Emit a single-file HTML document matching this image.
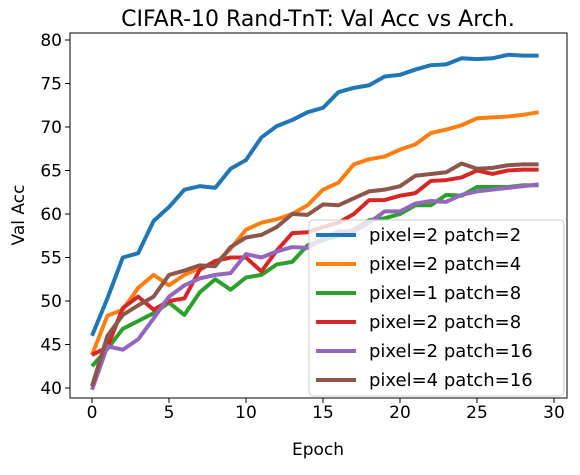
<!DOCTYPE html>
<html><head><meta charset="utf-8"><style>
body{margin:0;background:#fff;font-family:"Liberation Sans","DejaVu Sans",sans-serif}
svg text{font-family:"DejaVu Sans","Liberation Sans",sans-serif}
</style></head><body>
<svg id="c" width="580" height="470" xmlns="http://www.w3.org/2000/svg"></svg>
<script>
const epochs=[...Array(30).keys()];
const seriesNames=["pixel=2 patch=2","pixel=2 patch=4","pixel=1 patch=8","pixel=2 patch=8","pixel=2 patch=16","pixel=4 patch=16"];
const colors=["#1f77b4","#ff7f0e","#2ca02c","#d62728","#9467bd","#8c564b"];
const s0=[46,50.3,55,55.5,59.2,60.8,62.8,63.2,63,65.2,66.2,68.8,70.1,70.8,71.7,72.2,74,74.5,74.8,75.8,76,76.6,77.1,77.2,77.9,77.8,77.9,78.3,78.2,78.2];
const s1=[43.8,48.3,49,51.5,53,51.8,53,53.8,54.3,56,58.2,59,59.4,60,61,62.8,63.6,65.7,66.3,66.6,67.4,68,69.3,69.7,70.2,71,71.1,71.2,71.4,71.7];
const s2=[42.5,44.5,46.8,47.7,48.6,49.8,48.4,51,52.5,51.3,52.7,53,54.2,54.5,56.4,57,57.5,58.2,59.3,59.5,60,61,61,62.2,62.1,63.1,63.1,63.1,63.3,63.3];
const s3=[43.8,44.7,49.2,50.5,49,50,50.3,53.6,54.6,55,55,53.4,55.8,57.8,57.9,58.5,59,60,61.6,61.6,62.1,62.4,63.8,63.9,64.2,65,64.6,65,65.1,65.1];
const s4=[39.8,44.8,44.4,45.6,48,50.5,51.8,52.6,53,53.2,55.4,55,55.7,56.2,56.1,57.2,58,58,59,60.3,60.3,61.2,61.5,61.4,62.2,62.6,62.8,63,63.2,63.4];
const s5=[40.2,46,48.4,49.5,50.5,53,53.5,54.1,54,56.2,57.3,57.6,58.5,60,59.9,61.1,61,61.8,62.6,62.8,63.2,64.4,64.6,64.8,65.8,65.2,65.3,65.6,65.7,65.7];
const xTicks=[0,5,10,15,20,25,30];
const yTicks=[40,45,50,55,60,65,70,75,80];
const NS="http://www.w3.org/2000/svg";
const svg=document.getElementById('c');
const L=70,R=567,T=33,B=398;
const xs=v=>92+v*15.4;
const ys=v=>388-(v-40)*8.7;
function mk(t,a,p){const e=document.createElementNS(NS,t);for(const k in a)e.setAttribute(k,a[k]);(p||svg).appendChild(e);return e;}
const fr=mk('rect',{x:L,y:T,width:R-L,height:B-T,fill:'none',stroke:'#000','stroke-width':1});


xTicks.forEach(t=>{
 const l=mk('line',{x1:xs(t),x2:xs(t),y1:B,y2:B+5,stroke:'#000'});
 
 
 const tx=mk('text',{x:xs(t),y:B+20,'text-anchor':'middle','font-size':17});tx.textContent=t;
 
 
});
yTicks.forEach(t=>{
 const l=mk('line',{x1:L-5,x2:L,y1:ys(t),y2:ys(t),stroke:'#000'});
 
 
 const tx=mk('text',{x:L-8,y:ys(t)+6,'text-anchor':'end','font-size':17});tx.textContent=t;
 
 
});
const all=[s0,s1,s2,s3,s4,s5];
all.forEach((s,i)=>{
 const p=mk('polyline',{points:s.map((v,j)=>xs(epochs[j])+','+ys(v)).join(' '),fill:'none',stroke:colors[i],'stroke-width':4,'stroke-linejoin':'round'});
 
 
});
const title=mk('text',{x:318,y:26,'text-anchor':'middle','font-size':22});title.textContent='CIFAR-10 Rand-TnT: Val Acc vs Arch.';


const xl=mk('text',{x:318,y:455,'text-anchor':'middle','font-size':17});xl.textContent='Epoch';


const yl=mk('text',{x:24,y:215,'text-anchor':'middle','font-size':17,transform:'rotate(-90 24 215)'});yl.textContent='Val Acc';


const lg=mk('g',{});


mk('rect',{x:309,y:220,width:255,height:176,rx:4,fill:'rgba(255,255,255,0.8)',stroke:'#ccc'},lg);
seriesNames.forEach((n,i)=>{
 const y=235+i*29;
 const g=mk('g',{},lg);
 
 
 mk('line',{x1:316,x2:356,y1:y,y2:y,stroke:colors[i],'stroke-width':4},g);
 const t=mk('text',{x:369,y:y+6,'font-size':18},g);t.textContent=n;
});
</script>
</body></html>
